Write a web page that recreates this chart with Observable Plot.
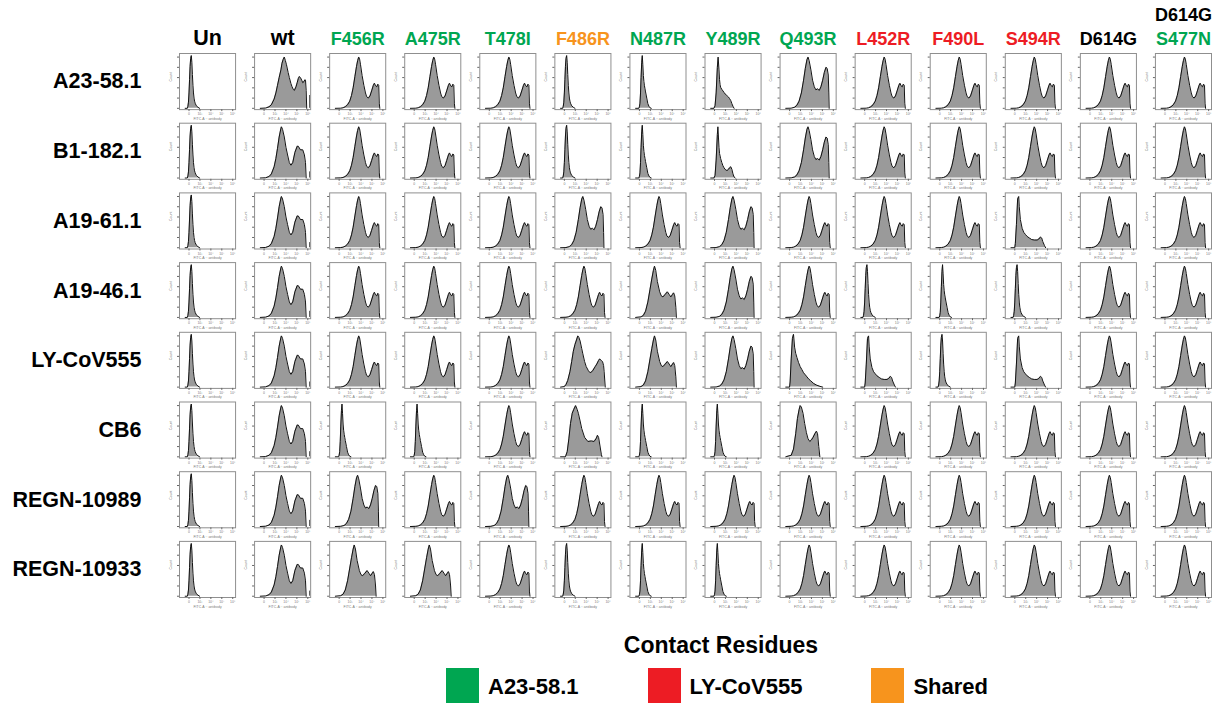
<!DOCTYPE html>
<html><head><meta charset="utf-8">
<script src="https://cdn.jsdelivr.net/npm/d3@7"></script>
<script src="https://cdn.jsdelivr.net/npm/@observablehq/plot@0.6"></script>
<style>
body{margin:0;background:#fff;font-family:"Liberation Sans",Arial,sans-serif;}
#wrap{position:relative;width:1221px;height:703px;overflow:hidden}
#chart{position:absolute;left:0;top:0}
#legend{position:absolute;left:0;top:616px;width:1221px;height:87px}
#ltitle{position:absolute;left:571px;width:300px;top:18px;text-align:center;font-weight:bold;font-size:23px;line-height:23px;color:#000}
#litems{position:absolute;left:446px;top:52px;display:flex;gap:69px}
.li{display:flex;align-items:flex-start}
.sw{width:33px;height:36px;margin-right:9px}
.lt{font-weight:bold;font-size:22px;line-height:22px;margin-top:8px;color:#000}
</style></head><body>
<div id="wrap"><div id="chart"></div><div id="legend"><div id="ltitle">Contact Residues</div><div id="litems"></div></div></div>
<script>
// ---- categories ----
const rowLabels = ["A23-58.1","B1-182.1","A19-61.1","A19-46.1","LY-CoV555","CB6","REGN-10989","REGN-10933"];
const colNames = ["Un","wt","F456R","A475R","T478I","F486R","N487R","Y489R","Q493R","L452R","F490L","S494R","D614G","D614G S477N"];
const colHeader = ["Un","wt","F456R","A475R","T478I","F486R","N487R","Y489R","Q493R","L452R","F490L","S494R","D614G","S477N"];
const colSuper = ["","","","","","","","","","","","","","D614G"];
const colGroup = ["none","none","A23","A23","A23","shared","A23","A23","A23","LY","LY","LY","none","A23"];
const groupColor = {none:"#000000", A23:"#00a651", LY:"#ed1c24", shared:"#f7941d"};
const legendLabels = ["A23-58.1","LY-CoV555","Shared"];
const legendColors = ["#00a651","#ed1c24","#f7941d"];
const xTickLabels = ["0","10³","10⁴","10⁵","10⁶"];

// ---- histogram profiles: [log FITC-A, relative count] ----
const negNarrow = [[-0.35,0],[-0.15,0],[-0.10,0.04],[-0.05,0.12],[0,0.3],[0.05,0.56],[0.10,0.82],[0.15,0.97],[0.21,1.03],[0.26,0.9],[0.31,0.66],[0.36,0.45],[0.41,0.3],[0.46,0.2],[0.51,0.14],[0.56,0.1],[0.67,0.05],[0.82,0.02],[0.97,0]];
const negShoulder = [[-0.35,0],[-0.05,0],[0,0.03],[0.05,0.1],[0.10,0.3],[0.15,0.6],[0.21,0.9],[0.26,1.03],[0.31,0.85],[0.36,0.64],[0.41,0.52],[0.46,0.44],[0.51,0.38],[0.56,0.32],[0.67,0.2],[0.77,0.09],[0.87,0.04],[0.97,0.01],[1.08,0]];
const tailLong = [[-0.35,0],[0,0],[0.05,0.1],[0.15,0.55],[0.26,0.95],[0.36,1.03],[0.46,0.78],[0.56,0.66],[0.67,0.58],[0.82,0.48],[0.97,0.4],[1.13,0.34],[1.28,0.28],[1.44,0.24],[1.59,0.2],[1.74,0.16],[1.9,0.13],[2.05,0.1],[2.21,0.07],[2.46,0.04],[2.77,0.015],[3.03,0]];
const partShoulder = [[-0.35,0],[-0.05,0],[0.05,0.05],[0.15,0.3],[0.26,0.8],[0.33,1.0],[0.41,0.75],[0.46,0.56],[0.51,0.46],[0.56,0.41],[0.67,0.37],[0.77,0.34],[0.87,0.31],[0.97,0.28],[1.08,0.26],[1.18,0.24],[1.28,0.22],[1.38,0.19],[1.49,0.15],[1.59,0.09],[1.69,0.04],[1.79,0]];
const partMidBump = [[-0.35,0],[-0.05,0],[0.05,0.05],[0.15,0.35],[0.26,0.85],[0.31,1.0],[0.36,0.8],[0.41,0.6],[0.46,0.48],[0.56,0.38],[0.67,0.3],[0.77,0.24],[0.87,0.2],[0.97,0.17],[1.08,0.15],[1.18,0.15],[1.28,0.17],[1.38,0.2],[1.49,0.22],[1.59,0.17],[1.69,0.08],[1.79,0.02],[1.9,0]];
const partHighBump = [[-0.35,0],[0,0],[0.05,0.08],[0.15,0.45],[0.26,0.95],[0.36,1.0],[0.41,0.8],[0.51,0.55],[0.67,0.38],[0.82,0.3],[0.97,0.26],[1.13,0.22],[1.33,0.19],[1.54,0.16],[1.79,0.15],[2.05,0.15],[2.2,0.17],[2.36,0.21],[2.46,0.19],[2.56,0.12],[2.72,0.04],[2.82,0]];
const wtFirst = [[-0.35,0],[0.15,0.005],[0.46,0.03],[0.67,0.07],[0.92,0.18],[1.08,0.3],[1.23,0.45],[1.38,0.6],[1.54,0.75],[1.64,0.88],[1.74,0.95],[1.85,1.0],[1.95,0.93],[2.05,0.85],[2.2,0.7],[2.31,0.6],[2.46,0.48],[2.56,0.42],[2.67,0.37],[2.77,0.35],[2.92,0.42],[3.03,0.5],[3.13,0.58],[3.23,0.62],[3.33,0.6],[3.44,0.55],[3.54,0.5],[3.64,0.52],[3.74,0.56],[3.79,0.55],[3.85,0.35],[3.9,0]];
const wtOther = [[-0.35,0],[0.15,0.005],[0.46,0.03],[0.67,0.08],[0.92,0.22],[1.08,0.38],[1.23,0.58],[1.38,0.8],[1.54,0.97],[1.59,1.0],[1.69,0.95],[1.85,0.8],[2.0,0.6],[2.15,0.45],[2.31,0.3],[2.46,0.25],[2.62,0.3],[2.82,0.5],[3.03,0.62],[3.13,0.62],[3.33,0.55],[3.54,0.55],[3.69,0.45],[3.79,0.3],[3.85,0]];
const boundStd = [[-0.35,0],[0.15,0.003],[0.36,0.01],[0.56,0.03],[0.77,0.07],[0.97,0.14],[1.13,0.25],[1.28,0.4],[1.44,0.62],[1.59,0.82],[1.69,0.93],[1.79,1.0],[1.87,0.96],[1.95,0.86],[2.1,0.64],[2.26,0.45],[2.41,0.3],[2.51,0.23],[2.67,0.2],[2.82,0.24],[2.97,0.34],[3.13,0.45],[3.23,0.49],[3.33,0.44],[3.44,0.42],[3.54,0.47],[3.62,0.45],[3.67,0.1],[3.72,0]];
const boundHigh = [[-0.35,0],[0.15,0.003],[0.46,0.02],[0.67,0.06],[0.87,0.14],[1.08,0.3],[1.28,0.55],[1.44,0.78],[1.59,0.95],[1.69,1.0],[1.79,0.93],[1.95,0.75],[2.1,0.55],[2.26,0.42],[2.41,0.36],[2.56,0.38],[2.72,0.35],[2.87,0.42],[3.03,0.55],[3.18,0.7],[3.33,0.8],[3.44,0.78],[3.54,0.65],[3.59,0.3],[3.62,0]];
const boundLeft = [[-0.35,0],[0.0,0.01],[0.15,0.05],[0.31,0.13],[0.51,0.3],[0.67,0.5],[0.82,0.7],[0.97,0.83],[1.08,0.9],[1.23,1.0],[1.33,0.97],[1.44,0.9],[1.59,0.75],[1.69,0.65],[1.85,0.5],[2.0,0.4],[2.2,0.32],[2.36,0.28],[2.51,0.3],[2.62,0.33],[2.82,0.4],[2.97,0.45],[3.13,0.52],[3.23,0.55],[3.38,0.52],[3.49,0.5],[3.59,0.42],[3.64,0.3],[3.74,0]];
const boundTri = [[-0.35,0],[0.15,0.01],[0.36,0.04],[0.56,0.12],[0.77,0.3],[0.97,0.55],[1.13,0.75],[1.28,0.92],[1.38,1.0],[1.49,0.92],[1.64,0.7],[1.85,0.5],[2.0,0.42],[2.15,0.4],[2.36,0.45],[2.56,0.5],[2.72,0.45],[2.87,0.4],[3.03,0.45],[3.13,0.48],[3.23,0.42],[3.33,0.2],[3.38,0]];
const broadCB6 = [[-0.35,0],[0.1,0],[0.26,0.1],[0.41,0.35],[0.56,0.65],[0.72,0.85],[0.87,0.93],[1.03,1.0],[1.18,0.92],[1.28,0.85],[1.44,0.7],[1.59,0.55],[1.85,0.38],[2.15,0.3],[2.46,0.31],[2.72,0.3],[2.92,0.36],[3.03,0.42],[3.13,0.38],[3.23,0.25],[3.38,0.05],[3.44,0]];
const leftCB6 = [[-0.35,0],[0.15,0.03],[0.36,0.15],[0.56,0.45],[0.72,0.75],[0.87,0.92],[0.97,1.0],[1.08,0.97],[1.23,0.85],[1.38,0.65],[1.54,0.47],[1.69,0.35],[1.85,0.3],[2.0,0.33],[2.15,0.38],[2.31,0.45],[2.46,0.5],[2.56,0.45],[2.67,0.2],[2.77,0]];

// saturated events piled at the top of the wt scale (one per antibody row)
const wtEdgeCount = [0.25, 0.12, 0.1, 0.12, 0.1, 0.1, 0.12, 0.1];
const edgeBin = [4.17, 4.24];

// ---- which profile each panel shows (rows x columns) ----
const cellShapes = [
  ["negNarrow","wtFirst","boundStd","boundStd","boundStd","negNarrow","negShoulder","partShoulder","boundHigh","boundStd","boundStd","boundStd","boundStd","boundStd"],
  ["negNarrow","wtOther","boundStd","boundStd","boundStd","negNarrow","negShoulder","partMidBump","boundHigh","boundStd","boundStd","boundStd","boundStd","boundStd"],
  ["negNarrow","wtOther","boundStd","boundStd","boundStd","boundHigh","boundStd","boundHigh","boundStd","boundStd","boundStd","partHighBump","boundStd","boundStd"],
  ["negNarrow","wtOther","boundStd","boundStd","boundStd","boundStd","boundTri","boundHigh","boundStd","negNarrow","negShoulder","negNarrow","boundStd","boundStd"],
  ["negNarrow","wtOther","boundStd","boundStd","boundStd","boundLeft","boundTri","boundHigh","tailLong","partHighBump","negNarrow","partHighBump","boundStd","boundStd"],
  ["negNarrow","wtOther","negShoulder","negShoulder","boundStd","broadCB6","negShoulder","negShoulder","leftCB6","boundStd","boundStd","boundStd","boundStd","boundStd"],
  ["negNarrow","wtOther","boundHigh","boundStd","boundHigh","boundStd","boundStd","boundStd","boundStd","boundStd","boundStd","boundStd","boundStd","boundStd"],
  ["negNarrow","wtOther","boundTri","boundTri","boundStd","negNarrow","negShoulder","negShoulder","boundStd","boundStd","boundStd","boundStd","boundStd","boundStd"]
];

const profiles = {negNarrow, negShoulder, tailLong, partShoulder, partMidBump, partHighBump, wtFirst, wtOther, boundStd, boundHigh, boundLeft, boundTri, broadCB6, leftCB6};

const cells = [];
rowLabels.forEach((r, i) => colNames.forEach((c, j) => {
  profiles[cellShapes[i][j]].forEach(([u, n]) => cells.push({row: r, col: c, u, n}));
}));
const edges = rowLabels.map((r, i) => ({row: r, col: colNames[1], x1: edgeBin[0], x2: edgeBin[1], n: wtEdgeCount[i]}));

const headers = colNames.map((c, j) => ({col: c, text: colHeader[j], color: groupColor[colGroup[j]], size: j < 2 ? 21.5 : 18}));
const supers = colNames.map((c, j) => ({col: c, text: colSuper[j]})).filter(d => d.text);

const chart = Plot.plot({
  width: 1221, height: 616,
  marginTop: 53, marginLeft: 179, marginRight: 10, marginBottom: 19,
  style: {fontFamily: "'Liberation Sans', Arial, sans-serif", background: "white"},
  fx: {domain: colNames, paddingInner: 0.253, paddingOuter: 0, round: false, axis: null},
  fy: {domain: rowLabels, paddingInner: 0.195, paddingOuter: 0, round: false, axis: null},
  x: {domain: [-0.87, 4.26]},
  y: {domain: [-0.025, 1.07]},
  marks: [
    Plot.areaY(cells, {fx: "col", fy: "row", x: "u", y: "n", fill: "#9a9a9a"}),
    Plot.lineY(cells, {fx: "col", fy: "row", x: "u", y: "n", stroke: "#111", strokeWidth: 1}),
    Plot.rectY(edges, {fx: "col", fy: "row", x1: "x1", x2: "x2", y1: 0, y2: "n", fill: "#333"}),
    Plot.frame({stroke: "#8f8f8f"}),
    Plot.axisX({facetAnchor: null, ticks: [0,1,2,3,4], tickFormat: d => xTickLabels[d], tickSize: 2, tickPadding: 1, fontSize: 3.5, label: null, color: "#666", fillOpacity: 0.9}),
    Plot.axisY({facetAnchor: null, ticks: 5, tickFormat: () => "", tickSize: 2, label: null, color: "#666"}),
    Plot.text(["FITC-A :: antibody"], {frameAnchor: "bottom", dy: 10, fontSize: 3.5, fill: "#666", fillOpacity: 0.9}),
    Plot.text(["Count"], {frameAnchor: "left", rotate: -90, dx: -9, fontSize: 3.5, fill: "#666", fillOpacity: 0.9}),
    Plot.text(headers, {fx: "col", fy: () => rowLabels[0], text: "text", fill: "color", fontSize: "size", fontWeight: "bold", frameAnchor: "top", lineAnchor: "bottom", dy: -8.5}),
    Plot.text(supers, {fx: "col", fy: () => rowLabels[0], text: "text", fill: "#000", fontSize: 18, fontWeight: "bold", frameAnchor: "top", lineAnchor: "bottom", dy: -32.5}),
    Plot.text(rowLabels, {fy: d => d, fx: () => colNames[0], text: d => d, frameAnchor: "left", textAnchor: "end", dx: -38, fontSize: 21.5, fontWeight: "bold", fill: "#000"})
  ]
});
document.getElementById("chart").appendChild(chart);

const items = d3.select("#litems").selectAll(".li").data(legendLabels).join("div").attr("class", "li");
items.append("div").attr("class", "sw").style("background", (d, i) => legendColors[i]);
items.append("div").attr("class", "lt").text(d => d);
</script>
</body></html>
